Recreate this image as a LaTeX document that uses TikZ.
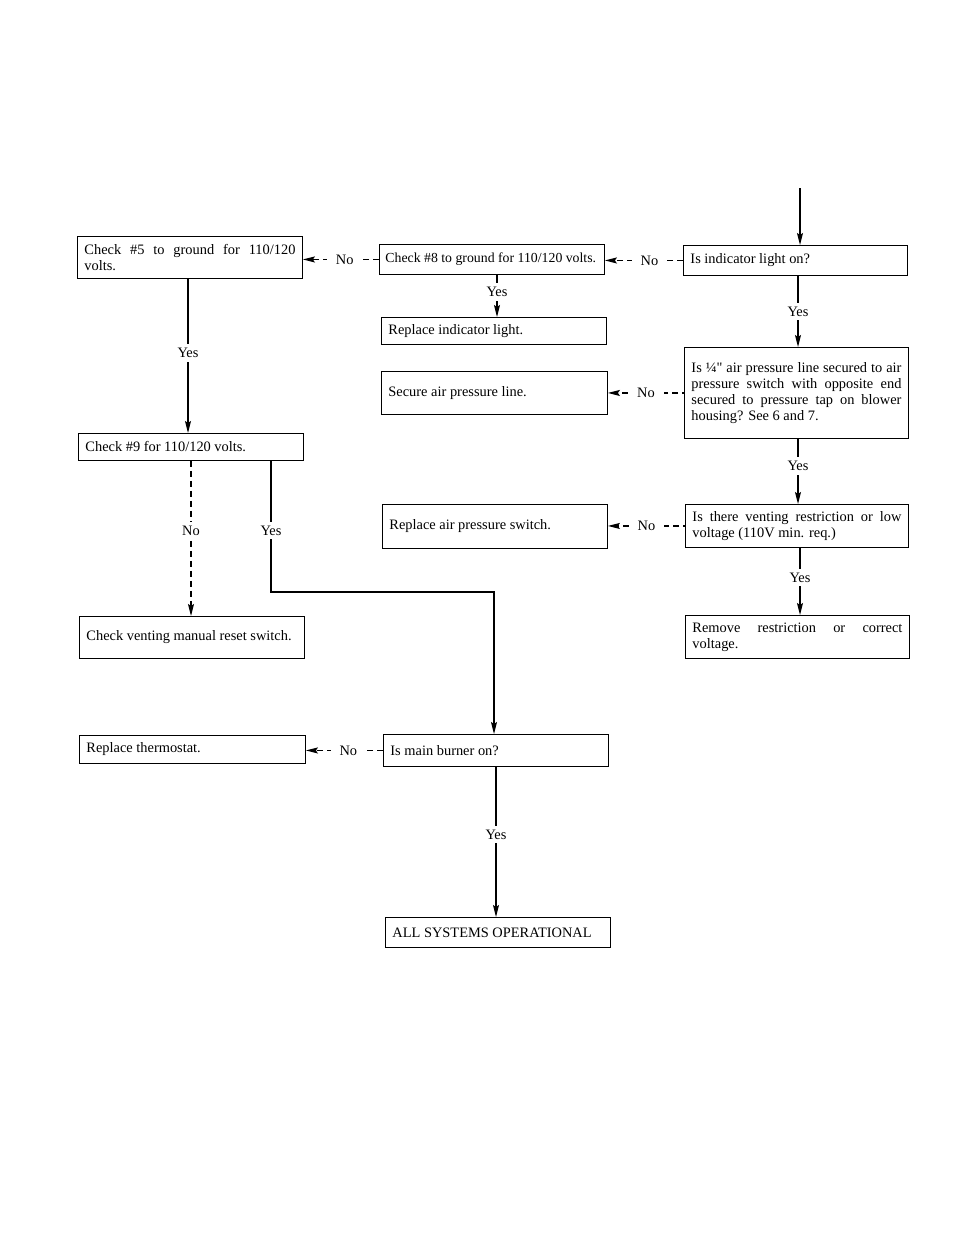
\documentclass[tikz,border=0pt]{standalone}
\usepackage{fontspec}
\setmainfont{Liberation Serif}
\newfontfamily\nomapfont{Liberation Serif}
\usetikzlibrary{arrows.meta}
\begin{document}
\begin{tikzpicture}[x=1pt,y=-1pt,
  txt/.style={font=\fontsize{14.4}{15.8}\selectfont},
  box/.style={txt,draw,line width=0.9pt,rectangle,anchor=north west,inner xsep=7pt,inner ysep=0pt,align=justify},
  lab/.style={txt,fill=white,inner xsep=2pt,inner ysep=4pt},
  nlab/.style={txt,fill=white,inner xsep=9pt,inner ysep=2pt},
  con/.style={line width=1.2pt},
  arr/.style={con,-{Stealth[length=12pt,width=6pt,inset=2pt]}},
  darr/.style={arr,dash pattern=on 6pt off 4pt}]
\useasboundingbox (0,0) rectangle (954,1235);
% boxes
\node[box,minimum width=225,text width=211,minimum height=42] (c5) at (77,236) {Check \#5 to ground for 110/120\linebreak volts.};
\node[box,minimum width=225,text width=213,inner xsep=6pt,minimum height=30,font=\fontsize{13.8}{15.8}\selectfont] (c8) at (379,244) {Check \#8 to ground for 110/120 volts.};
\node[box,minimum width=224,text width=210,minimum height=30] (ind) at (683,245) {Is indicator light on?};
\node[box,minimum width=225,text width=211,minimum height=27] (ril) at (381,317) {Replace indicator light.};
\node[box,minimum width=224,text width=210,minimum height=91] (air) at (684,347) {Is ¼{\nomapfont "} air pressure line secured to air\linebreak pressure switch with opposite end\linebreak secured to pressure tap on blower\linebreak housing? See 6 and 7.};
\node[box,minimum width=226,text width=212,minimum height=43] (sec) at (381,371) {Secure air pressure line.};
\node[box,minimum width=223,text width=209,minimum height=43] (vent) at (685,504) {Is there venting restriction or low\linebreak voltage (110V min. req.)};
\node[box,minimum width=225,text width=211,minimum height=44] (rsw) at (382,504) {Replace air pressure switch.};
\node[box,minimum width=224,text width=210,minimum height=43] (rem) at (685,615) {Remove restriction or correct\linebreak voltage.};
\node[box,minimum width=225,text width=211,minimum height=27] (c9) at (78,433) {Check \#9 for 110/120 volts.};
\node[box,minimum width=225,text width=211,minimum height=42] (cvm) at (79,616) {Check venting manual reset switch.};
\node[box,minimum width=226,text width=212,minimum height=28] (thr) at (79,735) {Replace thermostat.};
\node[box,minimum width=225,text width=211,minimum height=32] (mb) at (383,734) {Is main burner on?};
\node[box,minimum width=225,text width=211,minimum height=30] (all) at (385,917) {ALL SYSTEMS OPERATIONAL};
% column coordinates
\coordinate (start) at (800,188);
\coordinate (xR) at (798,0);
\coordinate (xR2) at (800,0);
\coordinate (xM) at (497,0);
\coordinate (xL) at (188,0);
\coordinate (xN) at (191,0);
\coordinate (bend) at (271,592);
\coordinate (xB) at (494,0);
\coordinate (xB2) at (496,0);
% vertical connectors
\draw[arr] (start) -- (start |- ind.north);
\draw[arr] (ind.south -| xR) -- node[lab]{Yes} (air.north -| xR);
\draw[arr] (air.south -| xR) -- node[lab,pos=0.42]{Yes} (vent.north -| xR);
\draw[arr] (vent.south -| xR2) -- node[lab,pos=0.44]{Yes} (rem.north -| xR2);
\draw[arr] (c8.south -| xM) -- node[lab,pos=0.4]{Yes} (ril.north -| xM);
\draw[arr] (c5.south -| xL) -- node[lab,pos=0.48]{Yes} (c9.north -| xL);
\draw[darr] (c9.south -| xN) -- node[lab,pos=0.45]{No} (cvm.north -| xN);
\draw[arr] (c9.south -| bend) -- node[lab,pos=0.53]{Yes} (bend) -| (mb.north -| xB);
\draw[arr] (mb.south -| xB2) -- node[lab,pos=0.45]{Yes} (all.north -| xB2);
% horizontal No connectors
\draw[darr] (ind.west) -- node[nlab,pos=0.43]{No} (ind.west -| c8.east);
\draw[darr] (c8.west) -- node[nlab,pos=0.45]{No} (c8.west -| c5.east);
\draw[darr,dash phase=4pt] (air.west) -- node[nlab,pos=0.5]{No} (air.west -| sec.east);
\draw[darr,dash phase=4pt] (vent.west) -- node[nlab,pos=0.5]{No} (vent.west -| rsw.east);
\draw[darr] (mb.west) -- node[nlab,pos=0.45]{No} (mb.west -| thr.east);
\end{tikzpicture}
\end{document}
